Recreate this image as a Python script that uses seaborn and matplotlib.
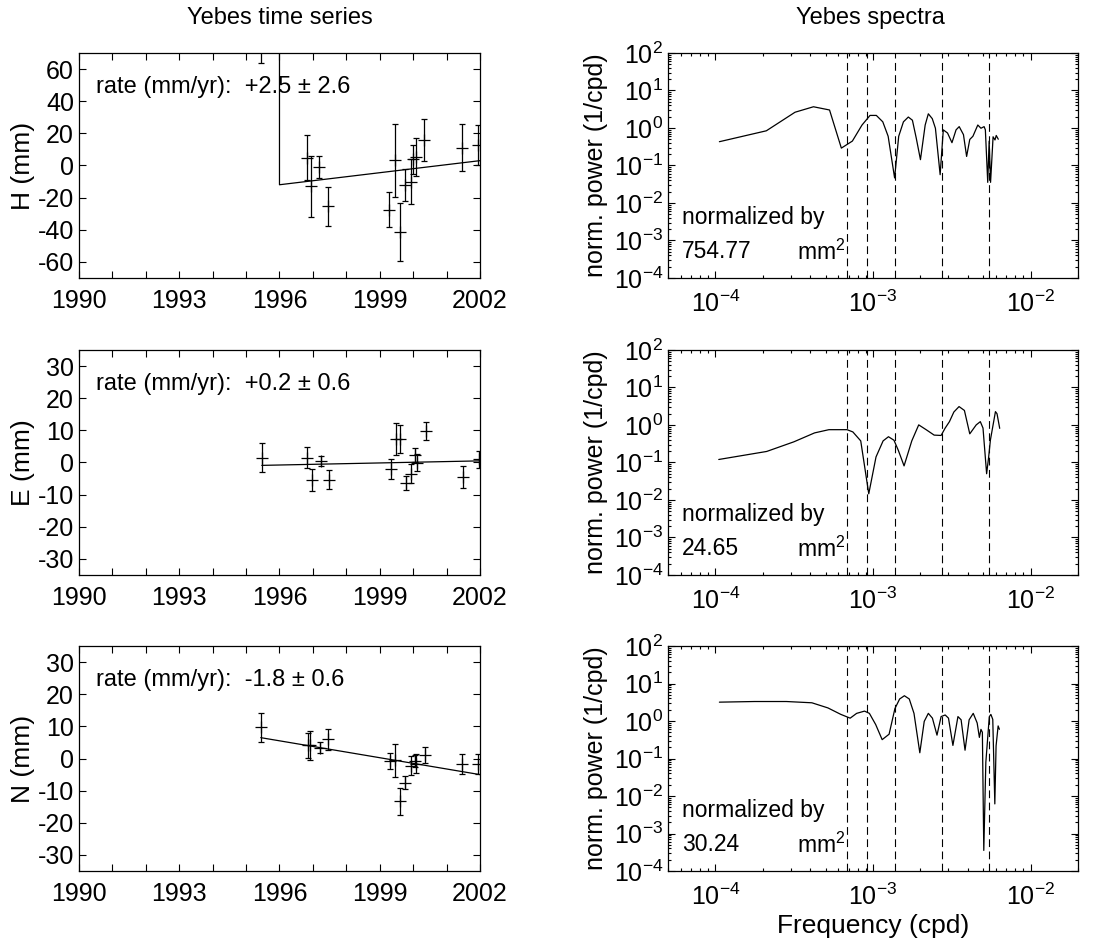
import numpy as np
import pandas as pd
import matplotlib
matplotlib.use("Agg")
import matplotlib.pyplot as plt
import seaborn as sns
from matplotlib.ticker import MultipleLocator, LogLocator, NullFormatter

sns.set_style("ticks")
plt.rcParams['font.family'] = ['Liberation Sans', 'DejaVu Sans']
plt.rcParams['mathtext.fontset'] = 'custom'
plt.rcParams['mathtext.rm'] = 'Liberation Sans'
plt.rcParams['mathtext.it'] = 'Liberation Sans:italic'
plt.rcParams['mathtext.default'] = 'regular'
plt.rcParams['axes.unicode_minus'] = False
for key in ['text.color', 'axes.labelcolor', 'xtick.color', 'ytick.color', 'axes.edgecolor']:
    plt.rcParams[key] = 'black'

# ---- time series (epoch in years, value and 1-sigma in mm) ----
h_t = [1995.45, 1996.81, 1996.93, 1997.19, 1997.46, 1999.29, 1999.46, 1999.60,
       1999.76, 1999.93, 2000.00, 2000.07, 2000.32, 2001.45, 2001.95]
h_y = [80, 4.8, -13, -1, -25.4, -27.5, 3.3, -41.5, -12, -10, 4, 5.4, 16, 11, 12.5]
h_err = [16, 14, 19, 7, 12, 11, 22.7, 18, 10, 14, 9, 12, 13, 14.5, 12.5]

e_t = [1995.47, 1996.83, 1996.96, 1997.23, 1997.49, 1999.33, 1999.49, 1999.60,
       1999.78, 1999.93, 2000.05, 2000.10, 2000.38, 2001.48, 2001.97]
e_y = [1.5, 1.5, -5.4, 0.4, -5.4, -2, 7.2, 7.2, -6.4, -3.5, 2.2, -0.1, 9.9, -4.6, 1.0]
e_err = [4.6, 3.3, 3.5, 1.5, 3, 3, 5, 4.4, 2.2, 3, 2.2, 2.7, 2.8, 3.4, 2.6]

n_t = [1995.44, 1996.84, 1996.91, 1997.21, 1997.46, 1999.30, 1999.45, 1999.62,
       1999.75, 1999.93, 2000.05, 2000.08, 2000.35, 2001.47, 2001.93]
n_y = [9.7, 4.1, 4.1, 3.4, 6.0, -0.8, -0.6, -13.3, -7.5, -2.2, -0.8, -1.6, 1.1, -1.7, -1.7]
n_err = [4.6, 4.0, 4.4, 1.6, 3.2, 2.5, 5.0, 4.2, 2.1, 3.0, 1.8, 2.9, 2.4, 3.0, 3.0]

# fitted models (H has an offset at 1996)
h_fit_t = [1995.45, 1996.0, 1996.0, 2002.0]
h_fit_y = [150, 150, -12, 3]
e_fit_t = [1995.47, 2002.0]
e_fit_y = [-0.9, 0.5]
n_fit_t = [1995.44, 2002.0]
n_fit_y = [6.5, -5.0]

rates = ["+2.5", "+0.2", "-1.8"]
rate_sig = ["2.6", "0.6", "0.6"]
year_ticks = [1990, 1993, 1996, 1999, 2002]

# ---- spectra (log10 frequency in cpd, log10 normalized power) ----
hs_lf = [-3.975, -3.677, -3.495, -3.378, -3.276, -3.201, -3.131, -3.070, -3.019, -2.979,
         -2.938, -2.904, -2.863, -2.837, -2.807, -2.776, -2.750, -2.726, -2.699, -2.669,
         -2.649, -2.624, -2.604, -2.574, -2.554, -2.527, -2.499, -2.473, -2.453, -2.426,
         -2.406, -2.386, -2.366, -2.335, -2.315, -2.295, -2.287, -2.272, -2.263, -2.254,
         -2.238, -2.226, -2.218, -2.205]
hs_ly = [-0.366, -0.075, 0.420, 0.566, 0.480, -0.537, -0.349, 0.078, 0.335, 0.335,
         0.164, -0.221, -1.332, -0.221, 0.164, 0.292, 0.207, -0.263, -0.845, 0.079,
         0.378, 0.249, -0.007, -1.246, -0.050, -0.135, -0.392, -0.050, 0.036, -0.178,
         -0.759, -0.306, -0.221, 0.079, -0.007, 0.036, -0.05, -1.45, -0.35, -1.45,
         -0.235, -0.32, -0.20, -0.30]

es_lf = [-3.979, -3.675, -3.503, -3.371, -3.280, -3.165, -3.128, -3.078, -3.027, -2.981,
         -2.936, -2.902, -2.867, -2.839, -2.803, -2.754, -2.710, -2.663, -2.612, -2.568,
         -2.542, -2.515, -2.487, -2.454, -2.420, -2.386, -2.345, -2.319, -2.302, -2.279,
         -2.266, -2.255, -2.223, -2.213, -2.196]
es_ly = [-0.920, -0.706, -0.450, -0.211, -0.125, -0.125, -0.185, -0.424, -1.835, -0.852,
         -0.424, -0.313, -0.407, -0.681, -1.091, -0.424, 0.003, -0.125, -0.270, -0.279,
         -0.082, 0.089, 0.346, 0.491, 0.388, -0.236, 0.003, 0.089, -0.082, -1.30,
         -0.85, -0.40, 0.357, 0.30, -0.09]

ns_lf = [-3.975, -3.752, -3.550, -3.388, -3.286, -3.205, -3.145, -3.104, -3.054, -3.023,
         -2.983, -2.942, -2.898, -2.861, -2.831, -2.801, -2.770, -2.740, -2.703, -2.675,
         -2.649, -2.623, -2.594, -2.568, -2.542, -2.521, -2.493, -2.461, -2.441, -2.416,
         -2.390, -2.364, -2.339, -2.325, -2.315, -2.306, -2.297, -2.284, -2.262, -2.252,
         -2.240, -2.227, -2.219, -2.206, -2.198]
ns_ly = [0.504, 0.521, 0.521, 0.487, 0.350, 0.179, 0.077, 0.205, 0.265, 0.205,
         -0.094, -0.496, -0.351, 0.333, 0.589, 0.675, 0.589, 0.205, -0.846, -0.009,
         0.205, 0.077, -0.376, 0.119, 0.162, 0.077, -0.650, 0.119, 0.034, -0.778,
         0.034, 0.205, -0.052, -0.436, -0.222, -0.30, -3.45, -1.10, 0.115, 0.177,
         0.044, -2.21, -0.66, -0.13, -0.22]

norms = ["754.77", "24.65", "30.24"]
# periods (days) marked with dashed lines: 4, 3, 2, 1, 0.5 years
periods = [1461.0, 1095.75, 730.5, 365.25, 182.625]

comps = ["H", "E", "N"]
ts = [(h_t, h_y, h_err, h_fit_t, h_fit_y),
      (e_t, e_y, e_err, e_fit_t, e_fit_y),
      (n_t, n_y, n_err, n_fit_t, n_fit_y)]
spec = [(hs_lf, hs_ly), (es_lf, es_ly), (ns_lf, ns_ly)]
ylims = [(-70, 70), (-35, 35), (-35, 35)]
ysteps = [20, 10, 10]

fig = plt.figure(figsize=(11.06, 9.48), dpi=100)
bottoms = [0.7068, 0.3935, 0.0812]
hgt = 0.2373

for i in range(3):
    t, y, err, ft, fy = ts[i]
    ax = fig.add_axes([0.0714, bottoms[i], 0.3626, hgt])
    sns.lineplot(x=ft, y=fy, ax=ax, color='k', lw=0.9, estimator=None, sort=False)
    ax.errorbar(t, y, yerr=err, fmt='+', color='k', ms=8, mew=0.9,
                elinewidth=0.9, capsize=2.5, capthick=0.9)
    ax.set_xticks(year_ticks)
    ax.xaxis.set_minor_locator(MultipleLocator(1))
    ax.set_xlim(1990, 2002)
    ax.set_yticks(np.arange(-3 * ysteps[i], 3 * ysteps[i] + 1, ysteps[i]))
    ax.set_ylim(*ylims[i])
    ax.tick_params(which='both', direction='in', top=True, right=True, labelsize=18,
                   length=5, width=0.8)
    ax.tick_params(axis='x', pad=8)
    ax.set_ylabel(comps[i] + " (mm)", fontsize=19, labelpad=2)
    ax.set_xlabel("")
    ax.text(0.042, 0.85, "rate (mm/yr):  " + rates[i] + " \u00b1 " + rate_sig[i],
            transform=ax.transAxes, fontsize=17, va='center', ha='left')
    for s in ax.spines.values():
        s.set_linewidth(0.9)

    lf, ly = spec[i]
    ax2 = fig.add_axes([0.604, bottoms[i], 0.3707, hgt])
    ax2.set_xscale('log')
    ax2.set_yscale('log')
    sns.lineplot(x=np.power(10.0, lf), y=np.power(10.0, ly), ax=ax2, color='k', lw=0.9,
                 estimator=None, sort=False)
    for p in periods:
        ax2.axvline(1.0 / p, color='k', lw=0.8, dashes=(7, 4))
    ax2.set_xlim(5e-5, 2e-2)
    ax2.set_ylim(1e-4, 1e2)
    ax2.yaxis.set_major_locator(LogLocator(base=10, numticks=10))
    ax2.yaxis.set_minor_locator(LogLocator(base=10, subs=np.arange(2, 10), numticks=10))
    ax2.yaxis.set_minor_formatter(NullFormatter())
    ax2.xaxis.set_minor_formatter(NullFormatter())
    ax2.tick_params(which='both', direction='in', top=True, right=True, labelsize=18,
                    width=0.8)
    ax2.tick_params(which='major', length=5)
    ax2.tick_params(which='minor', length=2.5)
    ax2.tick_params(axis='x', pad=9)
    ax2.set_ylabel("norm. power (1/cpd)", fontsize=18, labelpad=4)
    ax2.set_xlabel("Frequency (cpd)" if i == 2 else "", fontsize=19, labelpad=3)
    ax2.text(0.034, 0.27, "normalized by", transform=ax2.transAxes, fontsize=16.5,
             va='center', ha='left')
    ax2.text(0.034, 0.116, norms[i], transform=ax2.transAxes, fontsize=16.5,
             va='center', ha='left')
    ax2.text(0.315, 0.116, "mm$^2$", transform=ax2.transAxes, fontsize=16.5,
             va='center', ha='left')
    for s in ax2.spines.values():
        s.set_linewidth(0.9)

fig.text(280 / 1106, 1 - 18 / 948, "Yebes time series", ha='center', va='center', fontsize=17)
fig.text(870 / 1106, 1 - 18 / 948, "Yebes spectra", ha='center', va='center', fontsize=17)

fig.savefig("out.png", dpi=100)
